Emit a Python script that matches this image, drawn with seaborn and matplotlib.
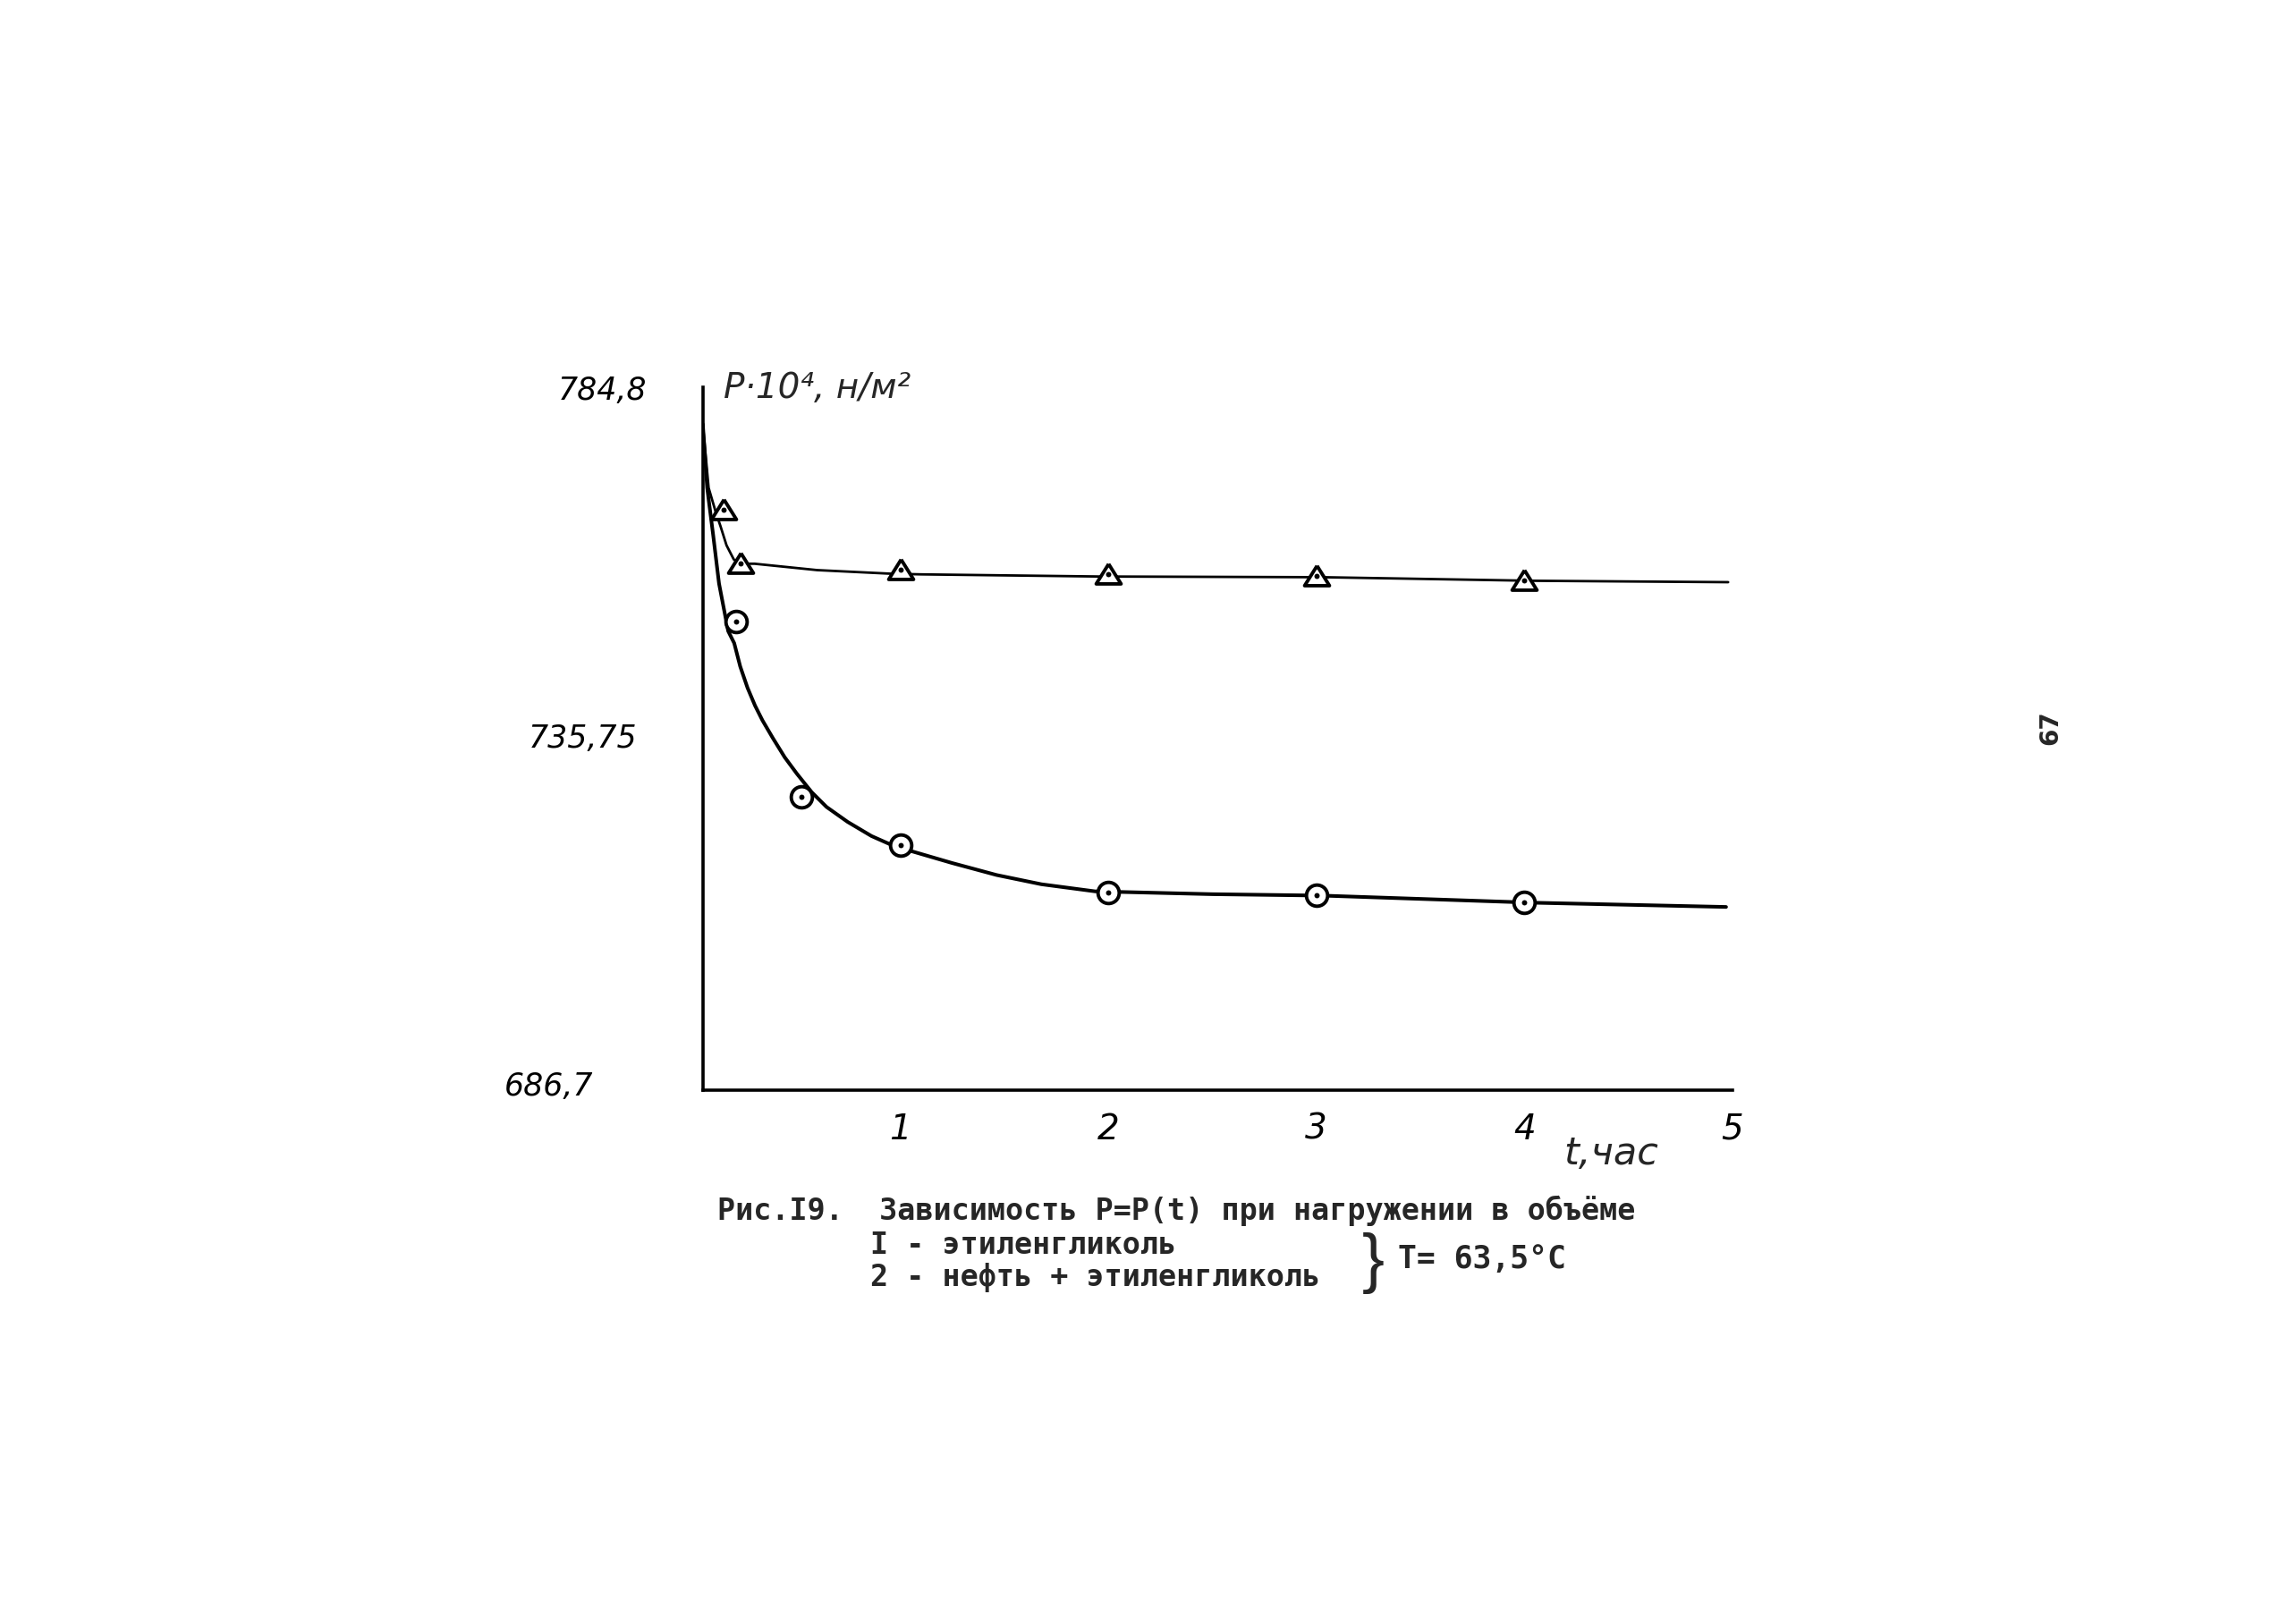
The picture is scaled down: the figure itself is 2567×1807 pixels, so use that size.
import seaborn as sns
import matplotlib.pyplot as plt
import pandas as pd

# curve 1 (triangles): этиленгликоль
curve1_t = [0.05, 0.078, 0.114, 0.135, 0.164, 0.199, 0.235, 0.299, 0.60, 0.95, 1.10, 1.95, 3.03, 4.03, 4.98]
curve1_p = [779.6, 770.6, 767.0, 765.2, 762.5, 760.5, 759.9, 759.9, 759.0, 758.5, 758.4, 758.1, 758.0, 757.5, 757.3]
points1_t = [0.15, 0.233, 1, 2, 3, 4]
points1_p = [767.5, 760.0, 759.0, 758.4, 758.2, 757.6]

# curve 2 (circles): нефть + этиленгликоль
curve2_t = [0.05, 0.071, 0.100, 0.128, 0.172, 0.201, 0.230, 0.265, 0.301, 0.337, 0.387,
            0.444, 0.502, 0.573, 0.645, 0.746, 0.861, 0.961, 1.061, 1.248, 1.463, 1.678,
            1.936, 2.5, 3.03, 4.04, 4.97]
curve2_p = [779.6, 770.6, 763.9, 757.1, 750.4, 748.7, 745.4, 742.4, 739.9, 737.8, 735.3,
            732.6, 730.3, 727.7, 725.6, 723.5, 721.5, 720.2, 719.3, 717.7, 716.0, 714.7,
            713.7, 713.3, 713.1, 712.1, 711.5]
points2_t = [0.212, 0.522, 1, 2, 3, 4]
points2_p = [751.8, 727.0, 720.2, 713.5, 713.1, 712.1]

xticks = [1, 2, 3, 4, 5]
yticks = [686.7, 735.75, 784.8]
ytick_labels = ["686,7", "735,75", "784,8"]

sns.set_style("white")
plt.rcParams['font.family'] = ['DejaVu Sans']

c1 = pd.DataFrame({"t": curve1_t, "P": curve1_p})
c2 = pd.DataFrame({"t": curve2_t, "P": curve2_p})
p1 = pd.DataFrame({"t": points1_t, "P": points1_p})
p2 = pd.DataFrame({"t": points2_t, "P": points2_p})

fig = plt.figure(figsize=(25.67, 18.08), dpi=100)
ax = fig.add_axes([0.3061, 0.3252, 0.4484, 0.4348])

sns.lineplot(data=c1, x="t", y="P", color="black", linewidth=2.0, estimator=None, ax=ax, zorder=2)
sns.lineplot(data=c2, x="t", y="P", color="black", linewidth=2.9, estimator=None, ax=ax, zorder=2)

triangle = [(0, 0.85), (-1, -0.75), (1, -0.75), (0, 0.85)]
sns.scatterplot(data=p1, x="t", y="P", marker=triangle, s=400, facecolor="white",
                edgecolor="black", linewidth=2.8, ax=ax, zorder=3)
sns.scatterplot(data=p2, x="t", y="P", marker="o", s=290, facecolor="white",
                edgecolor="black", linewidth=2.8, ax=ax, zorder=3)
sns.scatterplot(data=pd.concat([p1, p2]), x="t", y="P", marker="o", s=18,
                color="black", linewidth=0, ax=ax, zorder=4)

ax.set_xlim(0.05, 5.0)
ax.set_ylim(685.66, 784.8)
sns.despine(ax=ax)
for side in ["left", "bottom"]:
    ax.spines[side].set_linewidth(2.6)
    ax.spines[side].set_color("black")

ax.set_xticks(xticks)
ax.set_xticklabels([str(v) for v in xticks], fontsize=28, fontstyle="italic")
ax.tick_params(axis="x", direction="out", length=7, width=2, pad=10, colors="black")
ax.set_yticks(yticks)
ax.set_yticklabels(ytick_labels, fontsize=25, fontstyle="italic")
ax.tick_params(axis="y", length=0, colors="black")
for tick, pad in zip(ax.yaxis.get_major_ticks(), [88, 53, 45]):
    tick.set_pad(pad)

ax.set_xlabel("t,час", fontsize=31, fontstyle="italic")
ax.xaxis.set_label_coords(0.882, -0.062)
ax.set_ylabel("P·10⁴, н/м²", fontsize=28, fontstyle="italic", rotation=0, ha="center", va="center")
ax.yaxis.set_label_coords(0.111, 1.0)

mono = ["DejaVu Sans Mono", "Liberation Mono"]
fig.text(0.3125, 0.251, "Рис.I9.  Зависимость P=P(t) при нагружении в объёме",
         fontsize=24, family=mono, weight="bold", va="center")
fig.text(0.379, 0.230, "I - этиленгликоль", fontsize=24, family=mono, weight="bold", va="center")
fig.text(0.379, 0.210, "2 - нефть + этиленгликоль", fontsize=24, family=mono, weight="bold", va="center")
fig.text(0.598, 0.219, "}", fontsize=54, family="Liberation Sans", ha="center", va="center")
fig.text(0.609, 0.221, "T= 63,5°C", fontsize=25, family=mono, weight="bold", va="center")
fig.text(0.893, 0.550, "67", fontsize=20, weight="bold", rotation=90, ha="center", va="center")

fig.savefig("out.png", dpi=100, facecolor="white")
